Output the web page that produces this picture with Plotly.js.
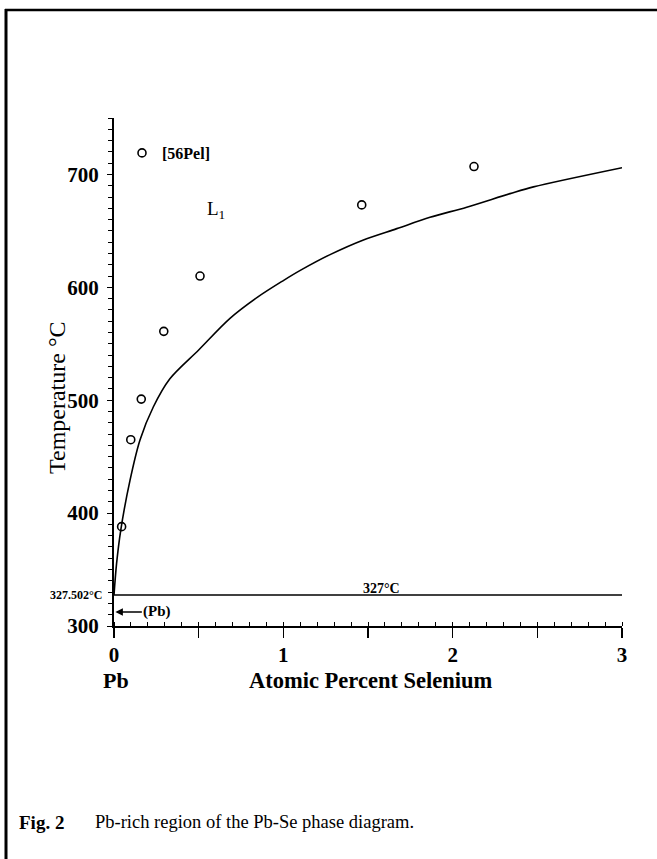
<!DOCTYPE html>
<html><head><meta charset="utf-8">
<script src="https://cdn.plot.ly/plotly-3.0.1.min.js"></script>
<style>html,body{margin:0;padding:0;background:#fff}</style>
</head><body><div id="chart" style="width:657px;height:859px"></div>
<script>
// Liquidus (L1) boundary
const liquidusX = [0, 0.015, 0.04, 0.0945, 0.154, 0.232, 0.33, 0.5, 0.685, 0.85, 1.0, 1.1, 1.276, 1.473, 1.67, 1.866, 2.083, 2.339, 2.477, 3.0];
const liquidusT = [327.502, 355, 385, 429, 465, 494, 519, 544.5, 572.5, 591.5, 606, 615, 629, 642, 652, 662, 671, 683, 689, 706];
// [56Pel] experimental points
const pelX = [0.045, 0.099, 0.161, 0.294, 0.508, 1.463, 2.126];
const pelT = [388, 465, 501, 561, 610, 673, 707];
// 327 °C horizontal line
const isoX = [0, 3];
const isoT = [327.502, 327.502];
// ticks
const xTickVals = [0, 0.5, 1, 1.5, 2, 2.5, 3];
const xTickText = ['0', '', '1', '', '2', '', '3'];
const yTickVals = [300, 400, 500, 600, 700];
const yTickText = ['300', '400', '500', '600', '700'];

const serif = 'Liberation Serif, Times New Roman, serif';
const W = 508, L = 114, T = 118, B = 626;
const px = v => (v - L) / W;
const py = v => (B - v) / W;

const traces = [
  {x: isoX, y: isoT, mode: 'lines', line: {color: '#000', width: 1.5}, showlegend: false, hoverinfo: 'skip'},
  {x: liquidusX, y: liquidusT, mode: 'lines', line: {color: '#000', width: 1.6, shape: 'spline', smoothing: 0.9}, showlegend: false},
  {x: pelX, y: pelT, mode: 'markers', name: '[56Pel]',
   marker: {symbol: 'circle-open', size: 8, color: '#000', line: {width: 1.6, color: '#000'}}, showlegend: true}
];

const tickFont = {family: serif, size: 21, color: '#000', weight: 'bold'};
const layout = {
  width: 657, height: 859,
  margin: {l: L, r: 657 - 622, t: T, b: 859 - B, pad: 0},
  paper_bgcolor: '#fff', plot_bgcolor: '#fff',
  showlegend: true,
  legend: {x: px(122), y: py(153), xanchor: 'left', yanchor: 'middle', bgcolor: 'rgba(0,0,0,0)',
           font: {family: serif, size: 16, color: '#000', weight: 'bold'}, itemwidth: 30},
  xaxis: {range: [0, 3], tickvals: xTickVals, ticktext: xTickText, ticks: 'outside', ticklen: 10, tickwidth: 1.5,
          tickcolor: '#000', showline: true, linecolor: '#000', linewidth: 1.5, zeroline: false, showgrid: false,
          tickfont: tickFont, ticklabelstandoff: -1,
          minor: {dtick: 0.1, tick0: 0, ticks: 'inside', ticklen: 4, tickwidth: 1, tickcolor: '#000'}},
  xaxis2: {range: [0, 3], overlaying: 'x', side: 'top', anchor: 'y', tickvals: xTickVals, showticklabels: false,
           ticks: 'inside', ticklen: 10, tickwidth: 1.5, tickcolor: '#000', showline: true, linecolor: '#000', linewidth: 1,
           zeroline: false, showgrid: false, minor: {dtick: 0.1, tick0: 0, ticks: 'inside', ticklen: 4, tickwidth: 1, tickcolor: '#000'}},
  yaxis: {range: [300, 750], tickvals: yTickVals, ticktext: yTickText, ticks: 'outside', ticklen: 5, tickwidth: 1,
          tickcolor: '#000', showline: true, linecolor: '#000', linewidth: 2, zeroline: false, showgrid: false,
          tickfont: tickFont, ticklabelstandoff: 4,
          minor: {dtick: 10, tick0: 300, ticks: 'outside', ticklen: 4, tickwidth: 1, tickcolor: '#000'}},
  yaxis2: {range: [300, 750], overlaying: 'y', side: 'right', anchor: 'x', tickvals: yTickVals, showticklabels: false,
           ticks: 'inside', ticklen: 6, tickwidth: 1, tickcolor: '#000', showline: true, linecolor: '#000', linewidth: 1.2,
           zeroline: false, showgrid: false, minor: {dtick: 10, tick0: 300, ticks: 'inside', ticklen: 4, tickwidth: 1, tickcolor: '#000'}},
  shapes: [
    {type: 'line', xref: 'paper', yref: 'paper', x0: px(6), x1: px(6), y0: py(9), y1: py(859), line: {color: '#000', width: 3}},
    {type: 'line', xref: 'paper', yref: 'paper', x0: px(5), x1: px(657), y0: py(10), y1: py(10), line: {color: '#000', width: 2.5}}
  ],
  annotations: [
    {text: 'Temperature °C', xref: 'paper', yref: 'paper', x: px(57), y: py(398), xanchor: 'center', yanchor: 'middle',
     textangle: -90, showarrow: false, font: {family: serif, size: 24, color: '#000'}},
    {text: 'Pb', xref: 'paper', yref: 'paper', x: px(116), y: py(680), xanchor: 'center', yanchor: 'middle', showarrow: false,
     font: {family: serif, size: 22, color: '#000', weight: 'bold'}},
    {text: 'Atomic Percent Selenium', xref: 'paper', yref: 'paper', x: px(371), y: py(680), xanchor: 'center', yanchor: 'middle', showarrow: false,
     font: {family: serif, size: 22.5, color: '#000', weight: 'bold'}},
    {text: '327.502°C', xref: 'paper', yref: 'y', x: px(104), y: 327.502, xanchor: 'right', yanchor: 'middle', showarrow: false,
     font: {family: serif, size: 12, color: '#000', weight: 'bold'}},
    {text: '327°C', xref: 'x', yref: 'y', x: 1.58, y: 327.502, xanchor: 'center', yanchor: 'bottom', yshift: -3, showarrow: false,
     font: {family: serif, size: 14, color: '#000', weight: 'bold'}},
    {text: '(Pb)', xref: 'x', yref: 'y', x: 0.008, y: 312.5, ax: 42, ay: 0, showarrow: true, arrowhead: 2, arrowsize: 1,
     arrowwidth: 1.5, arrowcolor: '#000', standoff: 0,
     font: {family: serif, size: 15, color: '#000', weight: 'bold'}},
    {text: 'L<sub>1</sub>', xref: 'x', yref: 'y', x: 0.6, y: 668.5, xanchor: 'center', yanchor: 'middle', showarrow: false,
     font: {family: serif, size: 19, color: '#000'}},
    {text: 'Fig. 2', xref: 'paper', yref: 'paper', x: px(17), y: py(822), xanchor: 'left', yanchor: 'middle', showarrow: false,
     font: {family: serif, size: 19, color: '#000', weight: 'bold'}},
    {text: 'Pb-rich region of the Pb-Se phase diagram.', xref: 'paper', yref: 'paper', x: px(93), y: py(822), xanchor: 'left', yanchor: 'middle', showarrow: false,
     font: {family: serif, size: 18.5, color: '#000'}}
  ]
};
Plotly.newPlot('chart', traces, layout, {staticPlot: true, displayModeBar: false});
</script></body></html>
